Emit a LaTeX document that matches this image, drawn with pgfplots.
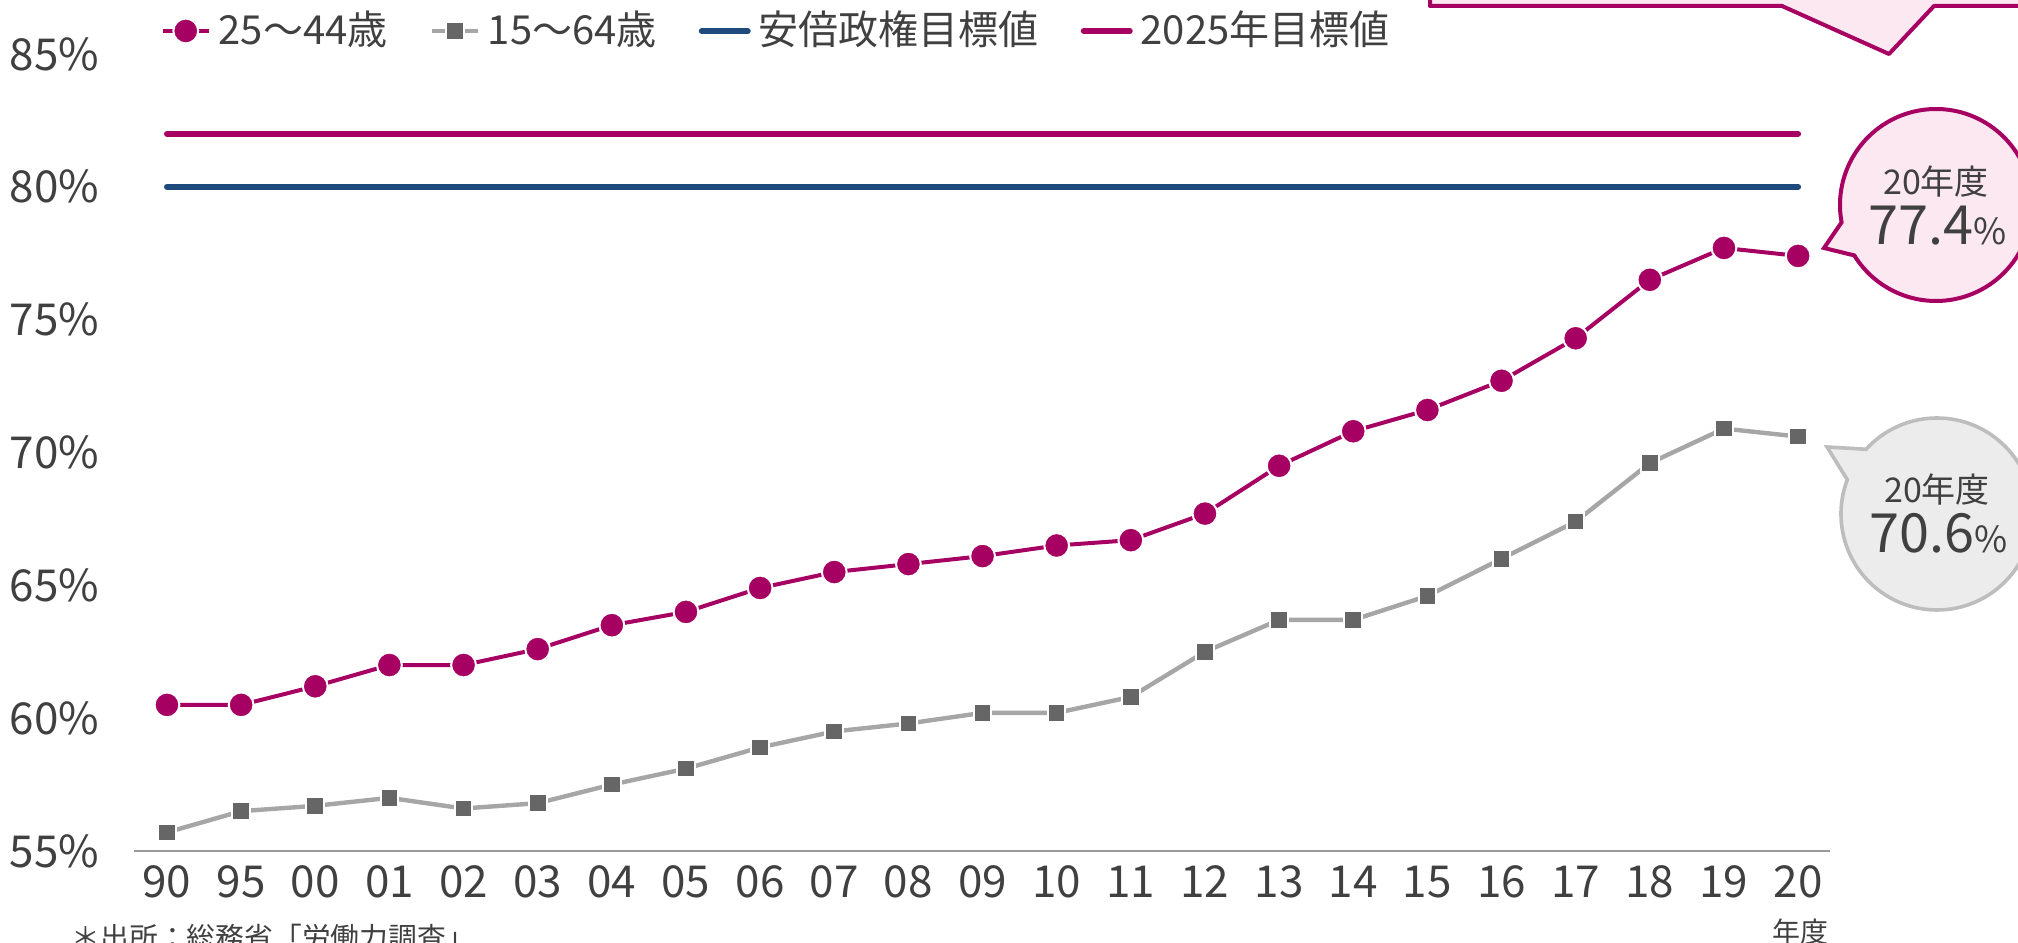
\documentclass[border=0pt]{standalone}
\usepackage{pgfplots}
\usepackage{pgfplotstable}
\pgfplotsset{compat=1.18}
\usepackage{fontspec}
\setmainfont{Noto Sans CJK JP}
\definecolor{mag}{HTML}{A60062}
\definecolor{navy}{HTML}{1F4A7D}
\definecolor{gline}{HTML}{A6A6A6}
\definecolor{gmark}{HTML}{666666}
\definecolor{txt}{HTML}{404040}
\definecolor{pinkfill}{HTML}{FCE8F1}
\definecolor{grayfill}{HTML}{ECECEC}
\definecolor{grayedge}{HTML}{BDBDBD}

\pgfplotstableread{
x a b
0 60.5 55.7
1 60.5 56.5
2 61.2 56.7
3 62.0 57.0
4 62.0 56.6
5 62.6 56.8
6 63.5 57.5
7 64.0 58.1
8 64.9 58.9
9 65.5 59.5
10 65.8 59.8
11 66.1 60.2
12 66.5 60.2
13 66.7 60.8
14 67.7 62.5
15 69.5 63.7
16 70.8 63.7
17 71.6 64.6
18 72.7 66.0
19 74.3 67.4
20 76.5 69.6
21 77.7 70.9
22 77.4 70.6
}\datatable

\begin{document}
\begin{tikzpicture}
\begin{axis}[
  at={(0,0)}, anchor=south west,
  scale only axis, width=424pt, height=199.25pt,
  xmin=-0.445, xmax=22.43, ymin=55, ymax=85,
  axis line style={draw=none},
  major tick length=0pt,
  clip=false,
  xtick={0,...,22},
  xticklabels={90,95,00,01,02,03,04,05,06,07,08,09,10,11,12,13,14,15,16,17,18,19,20},
  ytick={55,60,65,70,75,80,85},
  yticklabels={55\%,60\%,65\%,70\%,75\%,80\%,85\%},
  tick label style={font=\fontsize{11}{13}\selectfont, text=txt, inner sep=0pt},
  x tick label style={anchor=north},
  y tick label style={anchor=east},
  xticklabel shift=3.5pt,
  yticklabel shift=8.5pt,
  legend columns=-1,
  legend style={at={(rel axis cs:0.0153,1.0289)}, anchor=west, draw=none, fill=none,
    inner sep=0pt, font=\fontsize{10}{12}\selectfont, text=txt,
    /tikz/every even column/.append style={column sep=8.5pt}},
  legend image code/.code={\draw[mark repeat=2,mark phase=2] plot coordinates {(0pt,0pt) (5.75pt,0pt) (11.5pt,0pt)};},
]
\draw[color=gray!80, line width=0.5pt] (rel axis cs:0,0) -- (rel axis cs:1,0);
\addplot[mag, line width=1pt, mark=*, mark size=3.1pt, mark options={fill=mag, draw=white, line width=0.5pt}] table[x=x,y=a]{\datatable};
\addlegendentry{25～44歳}
\addplot[gline, line width=1.1pt, mark=square*, mark size=2.2pt, mark options={fill=gmark, draw=white, line width=0.5pt}] table[x=x,y=b]{\datatable};
\addlegendentry{15～64歳}
\addplot[navy, line width=1.5pt, line cap=round] coordinates {(0,80) (22,80)};
\addlegendentry{安倍政権目標値}
\addplot[mag, line width=1.5pt, line cap=round] coordinates {(0,82) (22,82)};
\addlegendentry{2025年目標値}
\end{axis}

% top callout (cut off)
\draw[mag, line width=1pt, fill=pinkfill, line join=round]
  (324pt,240pt) -- (324pt,211.25pt) -- (412pt,211.25pt) -- (438.75pt,199.25pt) -- (450pt,211.25pt) -- (520pt,211.25pt) -- (520pt,240pt) -- cycle;

% magenta callout
\draw[mag, line width=1pt, fill=pinkfill, line join=miter]
  (422.5pt,150.75pt) -- ([shift={(450.5pt,161.5pt)}]190.4:24pt) arc[start angle=190.4, end angle=-148.3, radius=24pt] -- cycle;
\node[anchor=base, text=txt, font=\fontsize{8.5}{10}\selectfont, inner sep=0pt] at (450.5pt,164pt) {20年度};
\node[anchor=base, text=txt, inner sep=0pt] at (451pt,151.5pt) {\fontsize{13.5}{15}\selectfont 77.4\fontsize{9}{10}\selectfont\%};

% gray callout
\draw[grayedge, line width=0.9pt, fill=grayfill, line join=miter]
  (423.25pt,101pt) -- ([shift={(450.75pt,84.25pt)}]137.6:24pt) arc[start angle=137.6, end angle=-200.9, radius=24pt] -- cycle;
\node[anchor=base, text=txt, font=\fontsize{8.5}{10}\selectfont, inner sep=0pt] at (450.75pt,87pt) {20年度};
\node[anchor=base, text=txt, inner sep=0pt] at (451.25pt,74.5pt) {\fontsize{13.5}{15}\selectfont 70.6\fontsize{9}{10}\selectfont\%};

% notes
\node[anchor=north west, text=txt, font=\fontsize{7.2}{9}\selectfont, inner sep=0pt] at (-15.75pt,-18pt) {＊出所：総務省「労働力調査」};
\node[anchor=north, text=txt, font=\fontsize{7}{9}\selectfont, inner sep=0pt] at (416.5pt,-16.75pt) {年度};

\pgfresetboundingbox
\path[use as bounding box] (-33.5pt,-23pt) rectangle (471pt,212.75pt);
\end{tikzpicture}
\end{document}
